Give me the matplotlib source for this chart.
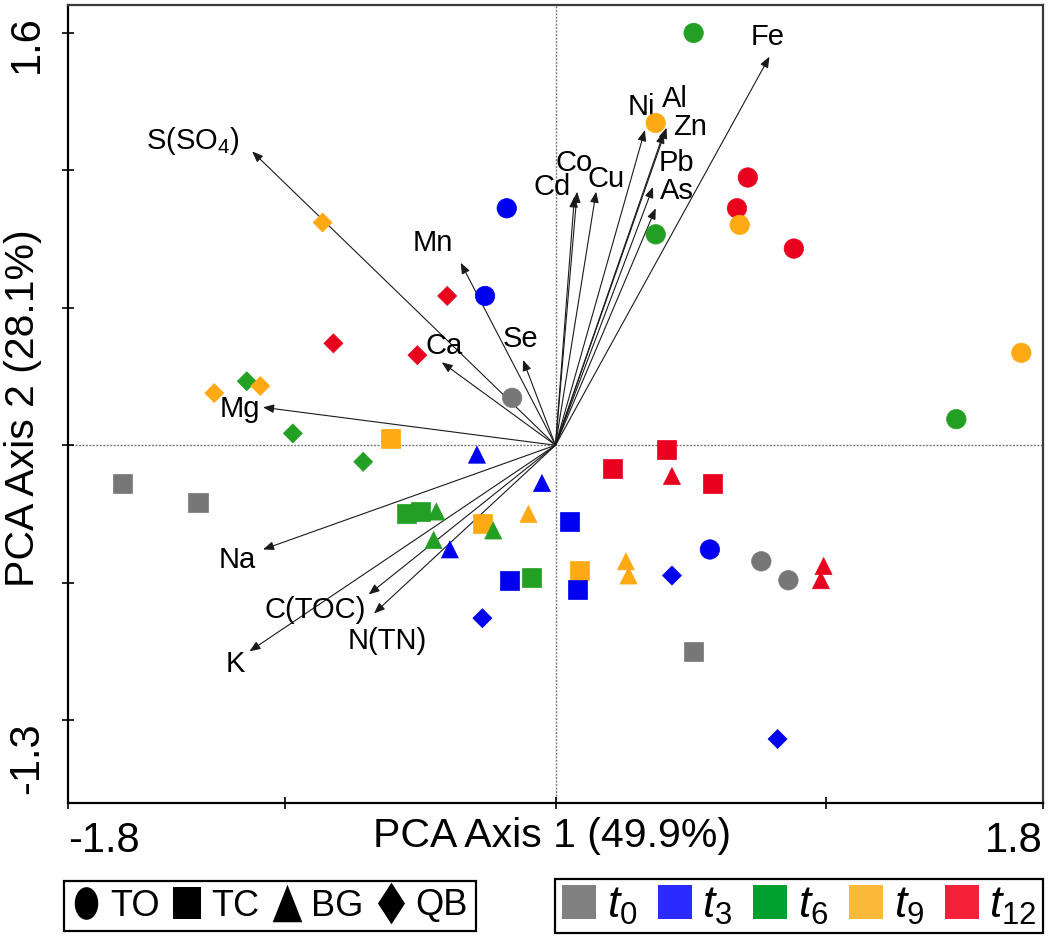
import numpy as np
import matplotlib
matplotlib.use('Agg')
import matplotlib.pyplot as plt
from matplotlib.lines import Line2D
from matplotlib import font_manager
import matplotlib.transforms as mtransforms

FONT = 'Liberation Sans'
try:
    font_manager.findfont('Liberation Sans Narrow', fallback_to_default=False)
    NARROW = 'Liberation Sans Narrow'
except Exception:
    NARROW = None

plt.rcParams['font.family'] = [FONT, 'DejaVu Sans']
plt.rcParams['mathtext.fontset'] = 'custom'
plt.rcParams['mathtext.rm'] = FONT
plt.rcParams['mathtext.it'] = FONT + ':italic'
plt.rcParams['mathtext.bf'] = FONT + ':bold'

# ---------------- data ----------------
times = ['t0', 't3', 't6', 't9', 't12']
time_labels = ['$t_{0}$', '$t_{3}$', '$t_{6}$', '$t_{9}$', '$t_{12}$']
point_colors = {'t0': '#777777', 't3': '#0000F0', 't6': '#23A023',
                't9': '#FFAA14', 't12': '#E8001E'}
legend_colors = {'t0': '#808080', 't3': '#2B2BFF', 't6': '#00A030',
                 't9': '#FBB93A', 't12': '#F42238'}

# TO (circles)
to_x = [0.51, 0.37, -0.18, 0.37, 0.71, 0.67, 0.68, 0.88, -0.26, -0.16, 1.72, 1.48, 0.57, 0.76, 0.86]
to_y = [1.60, 1.22, 0.86, 0.75, 0.99, 0.86, 0.79, 0.69, 0.49, 0.06, 0.25, -0.03, -0.58, -0.63, -0.71]
to_t = ['t6', 't9', 't3', 't6', 't12', 't12', 't9', 't12', 't3', 't0', 't9', 't6', 't3', 't0', 't0']

# TC (squares)
tc_x = [-1.60, -1.32, -0.61, -0.55, -0.50, -0.27, 0.05, -0.17, -0.09, 0.09, 0.08, 0.21, 0.41, 0.58, 0.51]
tc_y = [-0.30, -0.38, -0.11, -0.43, -0.42, -0.47, -0.46, -0.71, -0.70, -0.67, -0.75, -0.24, -0.16, -0.30, -1.01]
tc_t = ['t0', 't0', 't9', 't6', 't6', 't9', 't3', 't3', 't6', 't9', 't3', 't12', 't12', 't12', 't0']

# BG (triangles)
bg_x = [-0.29, -0.05, -0.45, -0.44, -0.23, -0.39, -0.10, 0.26, 0.27, 0.43, 0.99, 0.98]
bg_y = [-0.18, -0.30, -0.54, -0.42, -0.50, -0.58, -0.43, -0.63, -0.69, -0.27, -0.65, -0.71]
bg_t = ['t3', 't3', 't6', 't6', 't6', 't3', 't9', 't9', 't9', 't12', 't12', 't12']

# QB (diamonds)
qb_x = [-0.86, -0.40, -0.82, -0.51, -1.14, -1.09, -1.26, -0.97, -0.71, -0.27, 0.43, 0.82]
qb_y = [0.80, 0.49, 0.29, 0.24, 0.13, 0.11, 0.08, -0.09, -0.21, -0.87, -0.69, -1.38]
qb_t = ['t9', 't12', 't12', 't12', 't6', 't9', 't9', 't6', 't6', 't3', 't3', 't3']

# environmental vectors (tips), drawn from the biplot centre
centre = (0.0, -0.14)
var_names = ['Fe', 'S(SO$_{4}$)', 'Mn', 'Ca', 'Se', 'Mg', 'Na', 'K', 'C(TOC)', 'N(TN)',
             'Cd', 'Co', 'Cu', 'Ni', 'Al', 'Zn', 'Pb', 'As']
var_x = [0.79, -1.12, -0.35, -0.42, -0.12, -1.08, -1.08, -1.13, -0.69, -0.67,
         0.07, 0.08, 0.15, 0.33, 0.40, 0.41, 0.36, 0.37]
var_y = [1.50, 1.10, 0.63, 0.21, 0.22, 0.02, -0.58, -1.01, -0.77, -0.85,
         0.91, 0.93, 0.93, 1.19, 1.18, 1.20, 0.95, 0.86]

# label positions for the vectors
lab_x = [0.785, -1.338, -0.452, -0.410, -0.129, -1.165, -1.174, -1.183, -0.888, -0.620,
         -0.011, 0.070, 0.188, 0.318, 0.439, 0.495, 0.447, 0.447]
lab_y = [1.581, 1.144, 0.714, 0.280, 0.308, 0.013, -0.625, -1.064, -0.836, -0.966,
         0.950, 1.051, 0.984, 1.288, 1.321, 1.203, 1.051, 0.933]

site_labels = ['TO', 'TC', 'BG', 'QB']

# ---------------- figure ----------------
W, H = 1050, 939
fig = plt.figure(figsize=(W / 100, H / 100), dpi=100)
ax = fig.add_axes([68 / W, 1 - 803 / H, (1043 - 68) / W, (803 - 5) / H])
ax.set_xlim(-1.8, 1.8)
ax.set_ylim(-1.650, 1.718)

ax.axvline(centre[0], color='#7a7a7a', lw=1.0, ls=(0, (1.5, 1.0)), zorder=1)
ax.axhline(centre[1], color='#7a7a7a', lw=1.0, ls=(0, (1.5, 1.0)), zorder=1)

for name, vx, vy, lx, ly in zip(var_names, var_x, var_y, lab_x, lab_y):
    ax.annotate('', xy=(vx, vy), xytext=centre,
                arrowprops=dict(arrowstyle='-|>,head_length=0.5,head_width=0.2',
                                color='#1a1a1a', lw=0.8, mutation_scale=13,
                                shrinkA=0, shrinkB=0), zorder=2)
    ax.text(lx, ly, name, fontsize=21, ha='center', va='center', zorder=3)

groups = [(to_x, to_y, to_t, 'o', 196), (tc_x, tc_y, tc_t, 's', 188),
          (bg_x, bg_y, bg_t, '^', 150), (qb_x, qb_y, qb_t, 'D', 94)]
for gx, gy, gt, mk, sz in groups:
    cols = [point_colors[t] for t in gt]
    ax.scatter(gx, gy, s=sz, marker=mk, c=cols, edgecolors=cols, linewidths=0.5, zorder=4)

# axes styling
for side in ['left', 'bottom']:
    ax.spines[side].set_color('black')
    ax.spines[side].set_linewidth(1.6)
for side in ['top', 'right']:
    ax.spines[side].set_color('#3a3a3a')
    ax.spines[side].set_linewidth(1.6)
ax.set_xticks([-1.8, -1.0, 0.0, 1.0, 1.8])
ax.set_yticks([1.6, 1.02, 0.44, -0.14, -0.72, -1.3])
ax.tick_params(direction='inout', length=8, width=1.2, labelbottom=False, labelleft=False)

# tick labels
bx = mtransforms.blended_transform_factory(ax.transData, fig.transFigure)
ax.text(-1.8, 1 - 841 / H, '-1.8', transform=bx, ha='left', va='center', fontsize=30)
ax.text(1.8, 1 - 841 / H, '1.8', transform=bx, ha='right', va='center', fontsize=30)
by = mtransforms.blended_transform_factory(fig.transFigure, ax.transData)
ax.text(27 / W, 1.554, '1.6', transform=by, ha='center', va='center', rotation=90, fontsize=30)
ax.text(27 / W, -1.46, '-1.3', transform=by, ha='center', va='center', rotation=90, fontsize=30)

fig.text(552 / W, 1 - 836 / H, 'PCA Axis 1 (49.9%)', ha='center', va='center', fontsize=29.5)
fig.text(23 / W, 1 - 408 / H, 'PCA Axis 2 (28.1%)', ha='center', va='center',
         rotation=90, fontsize=29.5)

# ---------------- legends ----------------
th = np.linspace(0, 2 * np.pi, 60)
ellipse = list(zip(0.72 * np.cos(th), np.sin(th)))
rect = [(-0.85, -1), (0.85, -1), (0.85, 1), (-0.85, 1), (-0.85, -1)]
tri = [(0, 1), (0.79, -1), (-0.79, -1), (0, 1)]
dia = [(0, 1), (0.65, 0), (0, -1), (-0.65, 0), (0, 1)]
site_markers = [(ellipse, 23.5), (rect, 23.5), (tri, 27), (dia, 30)]
h1 = [Line2D([], [], ls='none', marker=m, markersize=ms, color='black',
             markeredgewidth=0) for m, ms in site_markers]
if NARROW:
    prop1 = dict(family=NARROW, size=28)
else:
    prop1 = dict(family=FONT, size=26)
leg1 = fig.legend(h1, site_labels, loc='center', bbox_to_anchor=(270 / W, 1 - 906 / H),
                  ncol=4, frameon=True, fancybox=False, edgecolor='black', framealpha=1,
                  prop=prop1, handlelength=0.75, handletextpad=0.3,
                  columnspacing=0.38, borderpad=0.22, borderaxespad=0)
leg1.get_frame().set_linewidth(1.6)

h2 = [Line2D([], [], ls='none', marker='s', markersize=25, color=legend_colors[t],
             markeredgewidth=0) for t in times]
leg2 = fig.legend(h2, time_labels, loc='center', bbox_to_anchor=(799 / W, 1 - 906 / H),
                  ncol=5, frameon=True, fancybox=False, edgecolor='black', framealpha=1,
                  prop=dict(family=FONT, size=32), handlelength=0.8, handletextpad=0.22,
                  columnspacing=0.45, borderpad=0.15, borderaxespad=0)
leg2.get_frame().set_linewidth(1.6)

fig.savefig('out.png', dpi=100)
